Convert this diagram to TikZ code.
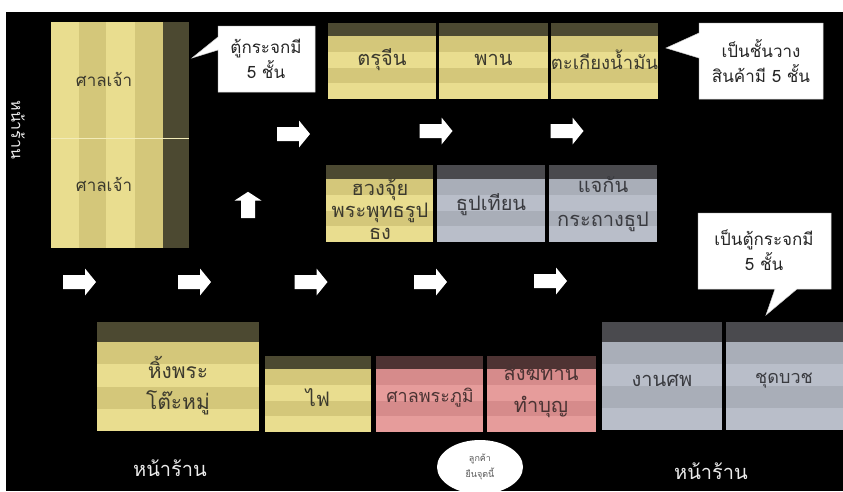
\documentclass[tikz,border=0pt]{standalone}
\usepackage{fontspec}
\newfontfamily\thai[Script=Thai]{Loma}
\usetikzlibrary{shapes.geometric}
\definecolor{yldark}{HTML}{4C4931}
\definecolor{ylmid}{HTML}{D4C77A}
\definecolor{yllight}{HTML}{E9DD8F}
\definecolor{ylline}{HTML}{F2EBB8}
\definecolor{gydark}{HTML}{4A4A4E}
\definecolor{gymid}{HTML}{A9AEB8}
\definecolor{gylight}{HTML}{B9BEC9}
\definecolor{pkdark}{HTML}{4E3333}
\definecolor{pkmid}{HTML}{D68B8B}
\definecolor{pklight}{HTML}{E69C9B}
\definecolor{lbltext}{HTML}{3C3A2E}
\definecolor{pktext}{HTML}{4A3333}
\definecolor{gytext}{HTML}{3A3B40}
\newcommand\shelfbox[7]{%
  \pgfmathsetmacro\shbh{(#5-#3-#6)/4}%
  \fill[#7dark] (#2,#3) rectangle (#4,#3+#6);
  \fill[#7mid] (#2,#3+#6) rectangle (#4,#3+#6+\shbh);
  \fill[#7light] (#2,#3+#6+\shbh) rectangle (#4,#3+#6+2*\shbh);
  \fill[#7mid] (#2,#3+#6+2*\shbh) rectangle (#4,#3+#6+3*\shbh);
  \fill[#7light] (#2,#3+#6+3*\shbh) rectangle (#4,#5);
  \coordinate (#1) at ({(#2+#4)/2},{(#3+#5)/2});
}
\tikzset{
  lbl/.style={font=\thai\fontsize{20}{22}\selectfont, text=lbltext, inner sep=0, align=center},
  ctext/.style={font=\thai\fontsize{17}{25}\selectfont, text=black!85, inner sep=0, align=center},
  callout/.style={fill=white, draw=black!20, line width=0.5pt},
  rarr/.pic={\fill[white] (-16.5,-7) -- (5.5,-7) -- (5.5,-13.5) -- (16.5,0) -- (5.5,13.5) -- (5.5,7) -- (-16.5,7) -- cycle; \coordinate (-c) at (0,0);},
  floor/.style={font=\thai\fontsize{20}{22}\selectfont, text=white!92!black, inner sep=0}
}
\begin{document}
\begin{tikzpicture}[x=1pt,y=-1pt]
\useasboundingbox (0,0) rectangle (843,491);
\fill[white] (0,0) rectangle (843,491);
\fill[black] (6,12) rectangle (843,491);

% big shrine cabinet
\fill[yllight] (51,22) rectangle (79,248);
\fill[ylmid] (79,22) rectangle (106,248);
\fill[yllight] (106,22) rectangle (135,248);
\fill[ylmid] (135,22) rectangle (163,248);
\fill[yldark] (163,22) rectangle (189,248);
\draw[ylline, line width=0.8pt] (51,138) -- (189,138);
\node[inner sep=0, minimum width=138pt, minimum height=226pt] (shrine) at (120,135) {};
\node[lbl, font=\thai\fontsize{17}{20}\selectfont] (s1) at (104,79) {ศาลเจ้า};
\node[lbl, font=\thai\fontsize{17}{20}\selectfont] (s2) at (104,184) {ศาลเจ้า};

% vertical label
\node[floor, font=\thai\fontsize{16}{18}\selectfont, rotate=-90] (front0) at (18,130) {หน้าร้าน};

% top row
\shelfbox{b1}{328}{23}{436}{99}{13}{yl}
\shelfbox{b2}{439}{23}{548}{99}{13}{yl}
\shelfbox{b3}{551}{23}{658}{99}{13}{yl}
\node[lbl] (t1) at ([yshift=1pt]b1) {ตรุจีน};
\node[lbl] (t2) at ([yshift=1pt]b2) {พาน};
\node[lbl, font=\thai\fontsize{18.5}{20}\selectfont] (t3) at ([yshift=1pt]b3) {ตะเกียงน้ำมัน};

% middle row
\shelfbox{m1}{326}{165}{433}{242}{14}{yl}
\shelfbox{m2}{437}{165}{545}{242}{14}{gy}
\shelfbox{m3}{549}{165}{657}{242}{14}{gy}
\node[lbl] (u1) at (380,209) {ฮวงจุ้ย\\พระพุทธรูป\\ธง};
\node[lbl, text=gytext] (u2) at (491,205) {ธูปเทียน};
\node[lbl, text=gytext, font=\thai\fontsize{20}{34}\selectfont] (u3) at (603,204) {แจกัน\\กระถางธูป};

% bottom row
\shelfbox{f1}{97}{322}{259}{431}{20}{yl}
\shelfbox{f2}{265}{356}{371}{432}{13}{yl}
\shelfbox{f3}{376}{356}{483}{432}{13}{pk}
\shelfbox{f4}{487}{356}{596}{432}{13}{pk}
\shelfbox{f5}{602}{322}{722}{430}{20}{gy}
\shelfbox{f6}{726}{322}{843}{430}{20}{gy}
\node[lbl, font=\thai\fontsize{21}{31}\selectfont] (w1) at (178,386) {หิ้งพระ\\โต๊ะหมู่};
\node[lbl] (w2) at (318,398) {ไฟ};
\node[lbl, text=pktext, font=\thai\fontsize{18}{20}\selectfont] (w3) at (430,398) {ศาลพระภูมิ};
\node[lbl, text=pktext, font=\thai\fontsize{20}{32}\selectfont] (w4) at (541,391) {สังฆทาน\\ทำบุญ};
\node[lbl, text=gytext] (w5) at (662,381) {งานศพ};
\node[lbl, text=gytext, font=\thai\fontsize{18}{20}\selectfont] (w6) at (784,381) {ชุดบวช};

% floor labels
\node[floor] (front1) at (170,468) {หน้าร้าน};
\node[floor] (front2) at (711,471) {หน้าร้าน};

% customer spot
\node[ellipse, fill=white, inner sep=0, minimum width=86pt, minimum height=54pt] (cust) at (480,467) {};
\node[font=\thai\fontsize{9}{16}\selectfont, text=black!65, align=center, inner sep=0] (custtxt) at (480,467) {ลูกค้า\\ยืนจุดนี้};

% callouts
\path[callout] (218,26) -- (315,26) -- (315,92) -- (218,92) -- (218,50) -- (192,58) -- (218,37) -- cycle;
\node[ctext] (c1) at (266,59) {ตู้กระจกมี\\5 ชั้น};
\path[callout] (699,23) -- (823,23) -- (823,99) -- (699,99) -- (699,58) -- (666,48) -- (699,33) -- cycle;
\node[ctext] (c2) at (761,61) {เป็นชั้นวาง\\สินค้ามี 5 ชั้น};
\path[callout] (698,213) -- (831,213) -- (831,289) -- (797,289) -- (766,315) -- (775,289) -- (698,289) -- cycle;
\node[ctext] (c3) at (764,250) {เป็นตู้กระจกมี\\5 ชั้น};

% flow arrows
\pic (a1) at (79.5,282) {rarr};
\pic (a2) at (194.5,282) {rarr};
\pic (a3) at (311,282) {rarr};
\pic (a4) at (430.5,282) {rarr};
\pic (a5) at (550.5,281) {rarr};
\pic[rotate=90, xscale=0.8] (a6) at (248,205) {rarr};
\pic (a7) at (293.5,134) {rarr};
\pic (a8) at (436,131) {rarr};
\pic (a9) at (567,131) {rarr};
\end{tikzpicture}
\end{document}
